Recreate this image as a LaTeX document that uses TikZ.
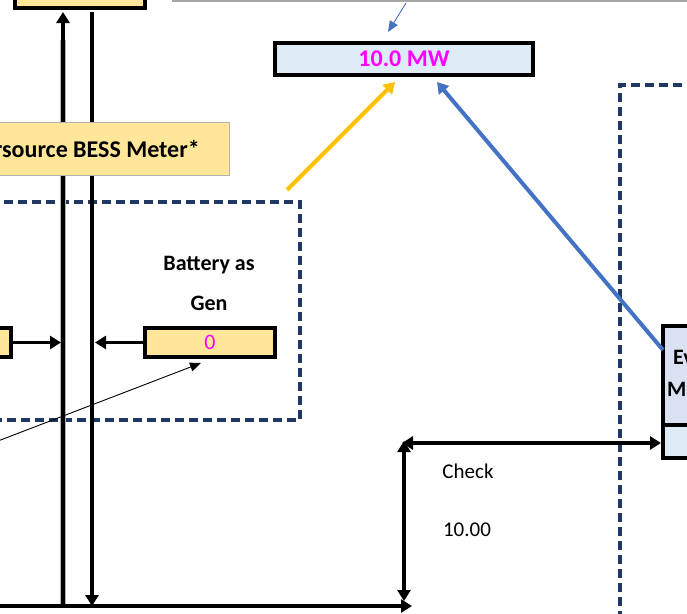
\documentclass[tikz,border=0pt]{standalone}
\usepackage{fontspec}
\setmainfont{Carlito}
\usetikzlibrary{arrows.meta}
\definecolor{ylw}{HTML}{FFE699}
\definecolor{lblue}{HTML}{DDEBF7}
\definecolor{lav}{HTML}{D9E1F2}
\definecolor{navy}{HTML}{1F3864}
\definecolor{org}{HTML}{FFC000}
\definecolor{blu}{HTML}{4472C4}
\definecolor{mag}{HTML}{FF00FF}
\tikzset{
  ybox/.style={draw=black,line width=4pt,fill=ylw,inner sep=0pt},
  bbox/.style={draw=black,line width=4pt,fill=lblue,inner sep=0pt},
  bus/.style={line width=4.2pt,black},
  halo/.style={line width=6.5pt,black!30},
  tip/.style={-{Triangle[width=13pt,length=11pt]}},
  dtip/.style={{Triangle[width=13pt,length=11pt]}-{Triangle[width=13pt,length=11pt]}},
  dashbox/.style={draw=navy,line width=3.2pt,dash pattern=on 9pt off 5pt},
  lbl/.style={font=\bfseries\fontsize{22}{24}\selectfont,inner sep=0pt},
  plain/.style={font=\fontsize{21}{23}\selectfont,inner sep=0pt},
}
\begin{document}
\begin{tikzpicture}[x=1pt,y=-1pt]
\useasboundingbox (0,0) rectangle (687,613);
% top gray line
\draw[black!35,line width=2pt] (172,0.5) -- (690,0.5);
% dashed boxes
\draw[dashbox] (-10,202) -- (300,202) -- (300,420) -- (-10,420);
\draw[dashbox] (620,620) -- (620,85) -- (700,85);
% top-left yellow box
\node[ybox,minimum width=130pt,minimum height=40pt,anchor=south west] (topbox) at (13,10) {};
% bus lines
\coordinate (l1b) at (63,607);
\coordinate (l1t) at (63,12);
\coordinate (l2t) at (92,12);
\coordinate (l2b) at (92,606);
\draw[halo] (l1b) -- (63,40);
\draw[bus,tip] (l1b) -- (l1t);
\draw[bus,tip] (l2t) -- (l2b);
\coordinate (bl) at (-5,606);
\coordinate (br) at (412,606);
\draw[bus,tip] (bl) -- (br);
% meter label box (on top of the buses)
\node[draw=black!30,line width=1pt,fill=ylw,minimum width=240pt,minimum height=53pt,anchor=north west] (meter) at (-11,122) {};
\node[inner sep=0pt,font=\bfseries\fontsize{24}{26}\selectfont,anchor=east] (metertxt) at (200,149) {rsource BESS Meter*};
% battery
\node[lbl] (bat1) at (209,265) {Battery as};
\node[lbl] (bat2) at (209,303) {Gen};
\node[ybox,minimum width=130pt,minimum height=29pt,anchor=north west,font=\fontsize{22}{24}\selectfont,text=mag] (bat) at (143,326) {0};
\node[ybox,minimum width=40pt,minimum height=29pt,anchor=north east] (leftbox) at (13,326) {};
\coordinate (l2r) at (95,341);
\coordinate (l1l) at (61,341);
\draw[line width=3.5pt,tip] (bat.west) -- (bat.west -| l2r);
\draw[line width=3.5pt,tip] (leftbox.east) -- (leftbox.east -| l1l);
% thin arrow
\coordinate (thinS) at (-2,441);
\coordinate (thinE) at (201,363);
\draw[line width=0.9pt,-{Triangle[width=9pt,length=11pt]}] (thinS) -- (thinE);
% MW box
\node[bbox,minimum width=258pt,minimum height=32pt,anchor=north west,font=\bfseries\fontsize{24}{26}\selectfont,text=mag] (mw) at (273,41) {10.0 MW};
\coordinate (sS) at (406,3);
\coordinate (sE) at (388,32);
\draw[blu,line width=0.9pt,-{Triangle[width=9pt,length=11pt]}] (sS) -- (sE);
\coordinate (oS) at (287,190);
\coordinate (oE) at (395,82);
\draw[org,line width=4pt,tip] (oS) -- (oE);
% right E box
\node[draw=black,line width=4pt,fill=lav,minimum width=60pt,minimum height=99pt,anchor=north west] (ebox) at (661,324) {};
\node[bbox,minimum width=60pt,minimum height=33pt,anchor=north west] (eval) at (661,423) {};
\node[lbl,anchor=west] (et1) at (673,357) {Ev};
\node[lbl,anchor=west] (et2) at (667,389) {M};
\coordinate (bS) at (663,350);
\coordinate (bE) at (437,82);
\draw[blu,line width=4pt,tip] (bS) -- (bE);
% check arrows
\coordinate (cTL) at (402,443);
\coordinate (cR) at (eval.west |- 0,443);
\draw[line width=3.5pt,dtip] (cTL) -- (cR);
\coordinate (cT) at (404,441);
\coordinate (cB) at (404,601);
\draw[line width=3.5pt,dtip] (cT) -- (cB);
\node[plain] (check) at (468,471) {Check};
\node[plain] (val) at (467,530) {10.00};
\end{tikzpicture}
\end{document}
